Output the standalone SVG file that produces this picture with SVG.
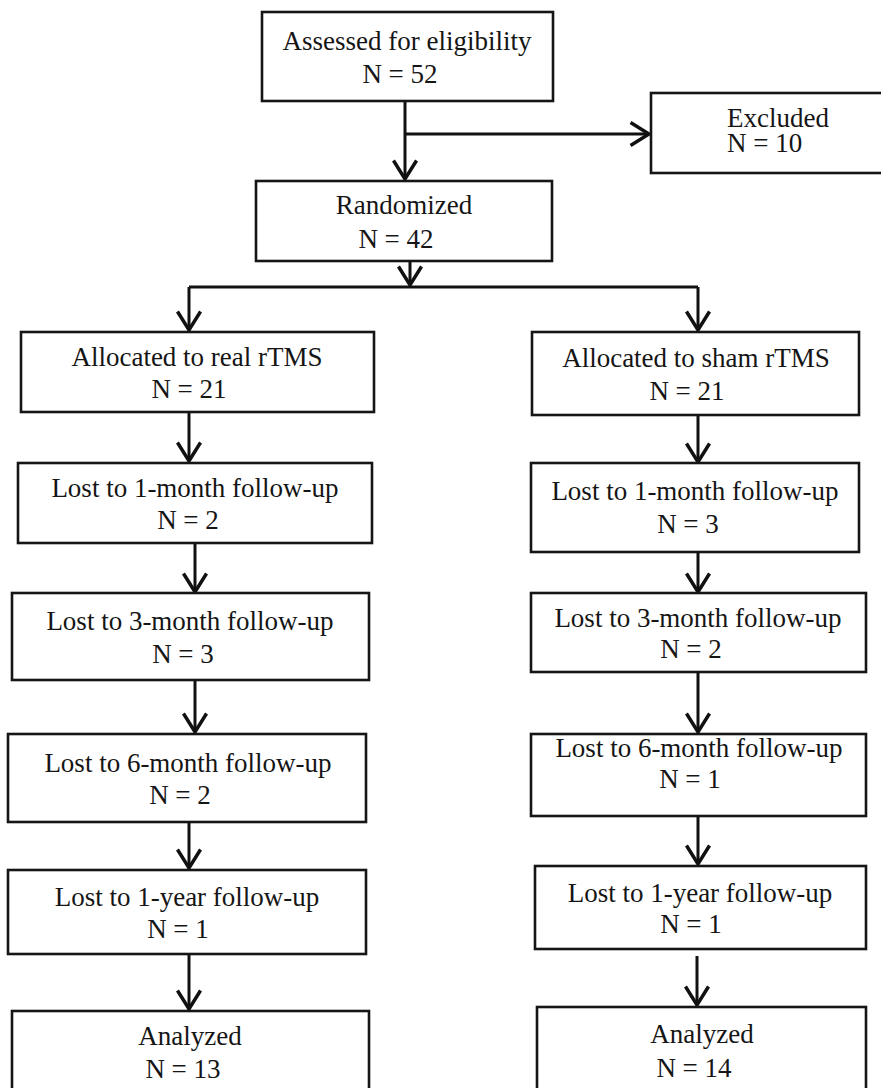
<svg xmlns="http://www.w3.org/2000/svg" width="881" height="1088" viewBox="0 0 881 1088">
<defs>
<style>
.box{fill:#fff;stroke:#151515;stroke-width:2.6}
.t{font-family:"Liberation Serif","Times New Roman",serif;font-size:27px;fill:#151515;text-anchor:middle}
.ts{font-family:"Liberation Serif","Times New Roman",serif;font-size:27px;fill:#151515;text-anchor:start}
.c{fill:none;stroke:#111;stroke-width:3}
</style>
<marker id="ah" markerUnits="userSpaceOnUse" markerWidth="30" markerHeight="30" viewBox="-20 -13 24 26" refX="0" refY="0" orient="auto">
<path d="M-16,-10 L0,0 L-16,10" fill="none" stroke="#111" stroke-width="3"/>
</marker>
</defs>
<rect width="881" height="1088" fill="#fff"/>
<g id="connectors">
<path class="c" d="M405,101 V179" marker-end="url(#ah)"/>
<path class="c" d="M405,134 H649" marker-end="url(#ah)"/>
<path class="c" d="M189,287 H698"/>
<path class="c" d="M189,287 V330" marker-end="url(#ah)"/>
<path class="c" d="M698,287 V330" marker-end="url(#ah)"/>
<path class="c" d="M410,261 V285" marker-end="url(#ah)"/>
<path class="c" d="M189,412 V461" marker-end="url(#ah)"/>
<path class="c" d="M195,543 V592" marker-end="url(#ah)"/>
<path class="c" d="M195,680 V732" marker-end="url(#ah)"/>
<path class="c" d="M189,822 V868" marker-end="url(#ah)"/>
<path class="c" d="M189,954 V1009" marker-end="url(#ah)"/>
<path class="c" d="M698,415 V462" marker-end="url(#ah)"/>
<path class="c" d="M698,552 V592" marker-end="url(#ah)"/>
<path class="c" d="M698,672 V732" marker-end="url(#ah)"/>
<path class="c" d="M698,816 V864" marker-end="url(#ah)"/>
<path class="c" d="M697,956 V1005" marker-end="url(#ah)"/>
</g>
<g id="assessed">
<rect class="box" x="262" y="12" width="291" height="89"/>
<text class="t" x="407" y="50">Assessed for eligibility</text>
<text class="t" x="400" y="83">N = 52</text>
</g>
<g id="excluded">
<rect class="box" x="651" y="93" width="240" height="80"/>
<text class="ts" x="727" y="127">Excluded</text>
<text class="ts" x="727" y="152">N = 10</text>
</g>
<g id="randomized">
<rect class="box" x="256" y="181" width="296" height="80"/>
<text class="t" x="404" y="214">Randomized</text>
<text class="t" x="396" y="248">N = 42</text>
</g>
<g id="alloc-real">
<rect class="box" x="21" y="332" width="353" height="80"/>
<text class="t" x="197" y="366">Allocated to real rTMS</text>
<text class="t" x="189" y="398">N = 21</text>
</g>
<g id="alloc-sham">
<rect class="box" x="532" y="332" width="327" height="83"/>
<text class="t" x="696" y="367">Allocated to sham rTMS</text>
<text class="t" x="687" y="400">N = 21</text>
</g>
<g id="real-lost1m">
<rect class="box" x="18" y="463" width="354" height="80"/>
<text class="t" x="195" y="497">Lost to 1-month follow-up</text>
<text class="t" x="188" y="529">N = 2</text>
</g>
<g id="sham-lost1m">
<rect class="box" x="531" y="463" width="328" height="89"/>
<text class="t" x="695" y="500">Lost to 1-month follow-up</text>
<text class="t" x="688" y="533">N = 3</text>
</g>
<g id="real-lost3m">
<rect class="box" x="12" y="593" width="357" height="87"/>
<text class="t" x="190" y="630">Lost to 3-month follow-up</text>
<text class="t" x="183" y="663">N = 3</text>
</g>
<g id="sham-lost3m">
<rect class="box" x="531" y="593" width="335" height="79"/>
<text class="t" x="698" y="627">Lost to 3-month follow-up</text>
<text class="t" x="691" y="658">N = 2</text>
</g>
<g id="real-lost6m">
<rect class="box" x="8" y="734" width="358" height="88"/>
<text class="t" x="188" y="772">Lost to 6-month follow-up</text>
<text class="t" x="180" y="804">N = 2</text>
</g>
<g id="sham-lost6m">
<rect class="box" x="531" y="734" width="335" height="82"/>
<text class="t" x="699" y="757">Lost to 6-month follow-up</text>
<text class="t" x="690" y="788">N = 1</text>
</g>
<g id="real-lost1y">
<rect class="box" x="8" y="870" width="358" height="84"/>
<text class="t" x="187" y="906">Lost to 1-year follow-up</text>
<text class="t" x="178" y="938">N = 1</text>
</g>
<g id="sham-lost1y">
<rect class="box" x="535" y="866" width="331" height="83"/>
<text class="t" x="700" y="902">Lost to 1-year follow-up</text>
<text class="t" x="691" y="933">N = 1</text>
</g>
<g id="real-analyzed">
<rect class="box" x="12" y="1011" width="357" height="90"/>
<text class="t" x="190" y="1045">Analyzed</text>
<text class="t" x="183" y="1078">N = 13</text>
</g>
<g id="sham-analyzed">
<rect class="box" x="537" y="1007" width="329" height="94"/>
<text class="t" x="702" y="1043">Analyzed</text>
<text class="t" x="694" y="1077">N = 14</text>
</g>
</svg>
